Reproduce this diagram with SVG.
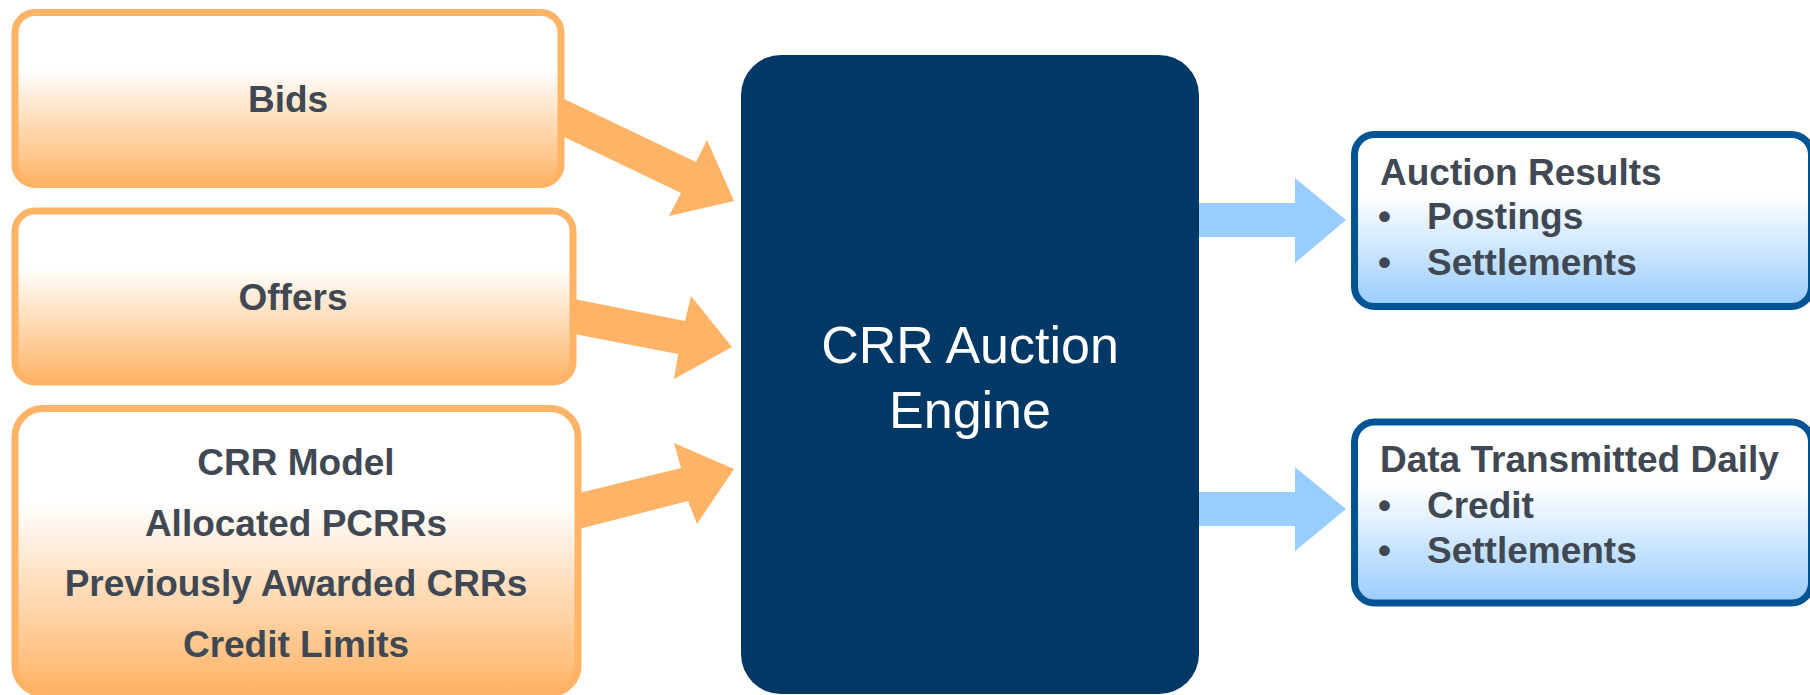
<svg xmlns="http://www.w3.org/2000/svg" width="1810" height="695" viewBox="0 0 1810 695">
<style>
.in{stroke:#FFB366;stroke-width:7;fill:url(#og)}
.out{stroke:#005494;stroke-width:7;fill:url(#bg)}
.t{font-family:"Liberation Sans",Arial,sans-serif;font-weight:bold;font-size:37px;fill:#404853}
.c{text-anchor:middle}
.e{font-family:"Liberation Sans",Arial,sans-serif;font-size:52px;fill:#FFFFFF;text-anchor:middle}
.oa{fill:#FFB366}
.ba{fill:#99CCFF}
</style>
<defs>
<linearGradient id="og" x1="0" y1="0" x2="0" y2="1">
<stop offset="0" stop-color="#FFFFFF"/>
<stop offset="0.33" stop-color="#FFFFFF"/>
<stop offset="1" stop-color="#FFB366"/>
</linearGradient>
<linearGradient id="bg" x1="0" y1="0" x2="0" y2="1">
<stop offset="0" stop-color="#FFFFFF"/>
<stop offset="0.35" stop-color="#FFFFFF"/>
<stop offset="1" stop-color="#99CCFF"/>
</linearGradient>
</defs>
<rect width="1810" height="695" fill="#FFFFFF"/>
<g id="connectors">
<polygon class="oa" points="562,98 696,162 707,140 734,201 669,216 681,193 562,136"/>
<polygon class="oa" points="574,299 685,321 691,296 732,347 674,379 678,354 574,334"/>
<polygon class="oa" points="579,493 681,468 674,443 734,469 697,524 688,501 579,529"/>
<polygon class="ba" points="1198,203 1295,203 1295,178 1346,220 1295,263 1295,237 1198,237"/>
<polygon class="ba" points="1198,492 1295,492 1295,467 1346,509 1295,551 1295,526 1198,526"/>
</g>
<g id="bids">
<rect class="in" x="15" y="12.5" width="546" height="172" rx="20"/>
<text class="t c" x="288" y="112">Bids</text>
</g>
<g id="offers">
<rect class="in" x="15" y="211" width="558" height="171" rx="20"/>
<text class="t c" x="293" y="310">Offers</text>
</g>
<g id="model">
<rect class="in" x="15" y="408.5" width="563" height="285" rx="28"/>
<text class="t c" x="296" y="475">CRR Model</text>
<text class="t c" x="296" y="536">Allocated PCRRs</text>
<text class="t c" x="296" y="596">Previously Awarded CRRs</text>
<text class="t c" x="296" y="657">Credit Limits</text>
</g>
<g id="engine">
<rect x="741" y="55" width="458" height="639" rx="40" fill="#023865"/>
<text class="e" x="970" y="363">CRR Auction</text>
<text class="e" x="970" y="428">Engine</text>
</g>
<g id="results">
<rect class="out" x="1354.5" y="134.5" width="457" height="172" rx="20"/>
<text class="t" x="1380" y="185">Auction Results</text>
<text class="t" x="1378" y="229">•</text>
<text class="t" x="1427" y="229">Postings</text>
<text class="t" x="1378" y="275">•</text>
<text class="t" x="1427" y="275">Settlements</text>
</g>
<g id="daily">
<rect class="out" x="1354.5" y="422" width="457" height="181" rx="20"/>
<text class="t" x="1380" y="472">Data Transmitted Daily</text>
<text class="t" x="1378" y="518">•</text>
<text class="t" x="1427" y="518">Credit</text>
<text class="t" x="1378" y="563">•</text>
<text class="t" x="1427" y="563">Settlements</text>
</g>
</svg>
